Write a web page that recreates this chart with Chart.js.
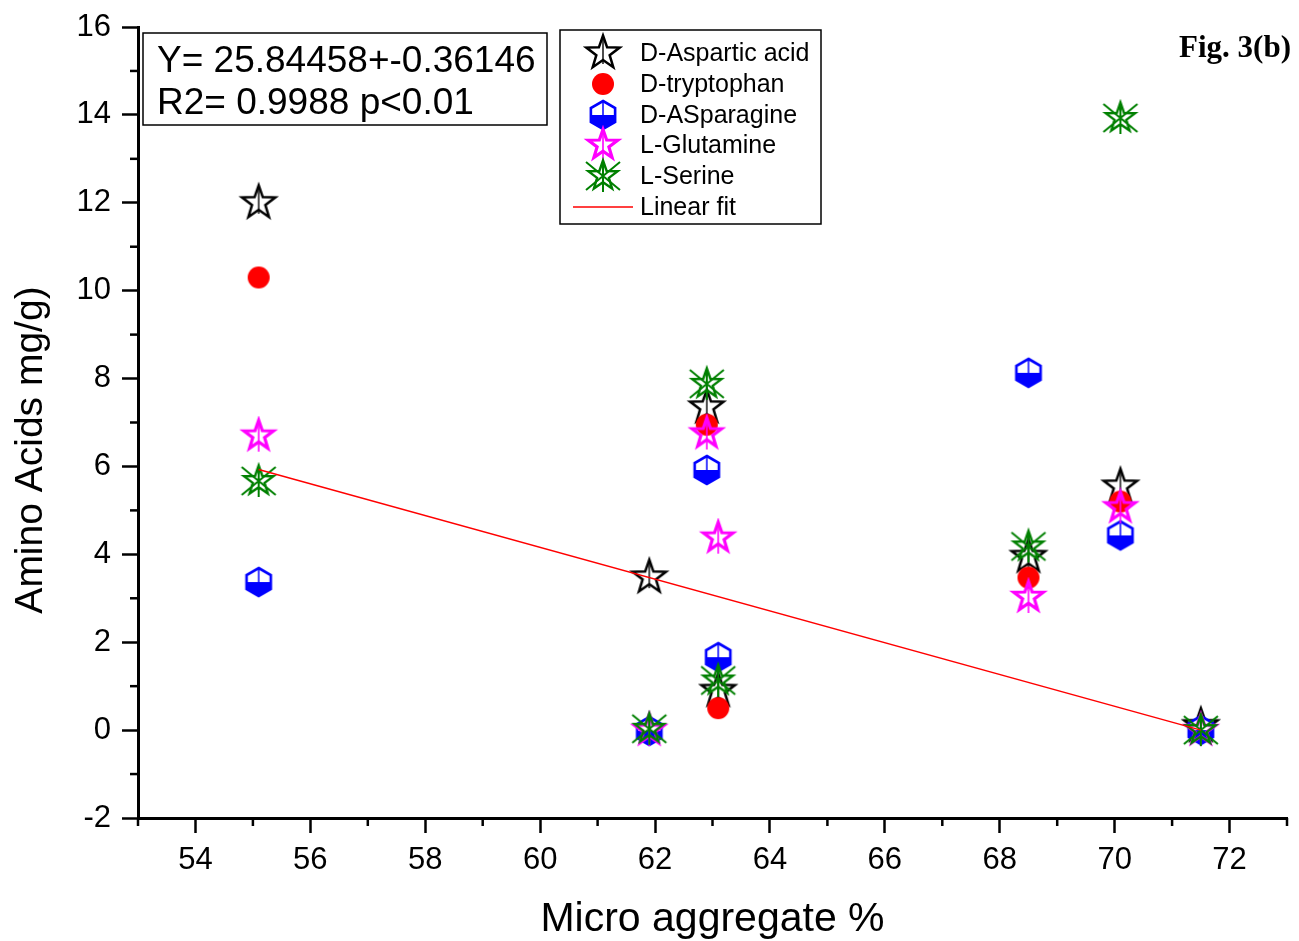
<!DOCTYPE html>
<html><head><meta charset="utf-8">
<script src="https://cdn.jsdelivr.net/npm/chart.js@4.4.1/dist/chart.umd.min.js"></script>
<style>html,body{margin:0;padding:0;background:#fff;overflow:hidden}</style>
</head><body>
<canvas id="c" width="1299" height="941"></canvas>
<script>
// ---- data ----
const xValues = [55.1, 61.9, 62.9, 63.1, 68.5, 70.1, 71.5];
const asparticAcid = [12.0, 3.48, 7.35, 0.9, 3.95, 5.55, 0.1];
const tryptophan = [10.3, 0.0, 6.95, 0.5, 3.47, 5.2, 0.0];
const asparagine = [3.37, -0.02, 5.92, 1.66, 8.13, 4.43, 0.0];
const glutamine = [6.7, 0.0, 6.75, 4.38, 3.03, 5.07, 0.0];
const serine = [5.67, 0.03, 7.88, 1.13, 4.18, 13.93, 0.0];
const fitX = [55.1, 71.5];
const fitY = [5.93, 0.0];
const xMajor = [54, 56, 58, 60, 62, 64, 66, 68, 70, 72];
const xMinor = [53, 55, 57, 59, 61, 63, 65, 67, 69, 71, 73];
const yMajor = [-2, 0, 2, 4, 6, 8, 10, 12, 14, 16];
const yMinor = [-1, 1, 3, 5, 7, 9, 11, 13, 15];
const seriesNames = ['D-Aspartic acid', 'D-tryptophan', 'D-ASparagine', 'L-Glutamine', 'L-Serine', 'Linear fit'];
const equationLines = ['Y= 25.84458+-0.36146', 'R2= 0.9988 p<0.01'];
const figLabel = 'Fig. 3(b)';
const xTitle = 'Micro aggregate %';
const yTitle = 'Amino Acids mg/g)';

// ---- marker images ----
function makeMarker(size, draw) {
  const c = document.createElement('canvas');
  c.width = size; c.height = size;
  const g = c.getContext('2d');
  g.translate(size / 2, size / 2);
  draw(g);
  return c;
}
function starPath(g, R, r) {
  g.beginPath();
  for (let i = 0; i < 10; i++) {
    const a = -Math.PI / 2 + i * Math.PI / 5;
    const rad = i % 2 ? r : R;
    const px = Math.cos(a) * rad, py = Math.sin(a) * rad;
    if (i === 0) g.moveTo(px, py); else g.lineTo(px, py);
  }
  g.closePath();
}
const mkStarBlack = makeMarker(44, g => {
  starPath(g, 17.5, 7);
  g.lineJoin = 'miter'; g.strokeStyle = '#000'; g.lineWidth = 2.5; g.stroke();
  g.beginPath(); g.moveTo(0, -16); g.lineTo(0, 11); g.lineWidth = 1.4; g.stroke();
});
const mkCircle = makeMarker(30, g => {
  g.beginPath(); g.arc(0, 0, 11, 0, Math.PI * 2); g.fillStyle = '#ff0000'; g.fill();
});
const mkHex = makeMarker(36, g => {
  const R = 14;
  const pts = [];
  for (let i = 0; i < 6; i++) {
    const a = -Math.PI / 2 + i * Math.PI / 3;
    pts.push([Math.cos(a) * R, Math.sin(a) * R]);
  }
  g.beginPath(); pts.forEach((p, i) => i ? g.lineTo(p[0], p[1]) : g.moveTo(p[0], p[1])); g.closePath();
  g.fillStyle = '#fff'; g.fill();
  g.beginPath();
  g.moveTo(pts[1][0], 0); g.lineTo(pts[2][0], pts[2][1]); g.lineTo(pts[3][0], pts[3][1]);
  g.lineTo(pts[4][0], pts[4][1]); g.lineTo(pts[5][0], 0); g.closePath();
  g.fillStyle = '#0000ff'; g.fill();
  g.beginPath(); pts.forEach((p, i) => i ? g.lineTo(p[0], p[1]) : g.moveTo(p[0], p[1])); g.closePath();
  g.strokeStyle = '#0000ff'; g.lineWidth = 2.6; g.stroke();
  g.beginPath(); g.moveTo(0, -R); g.lineTo(0, 0); g.lineWidth = 1.5; g.stroke();
});
const mkStarMagenta = makeMarker(40, g => {
  starPath(g, 15.5, 6.2);
  g.lineJoin = 'miter'; g.strokeStyle = '#ff00ff'; g.lineWidth = 3.2; g.stroke();
  g.beginPath(); g.moveTo(0, -14); g.lineTo(0, 16); g.lineWidth = 1.6; g.stroke();
});
const mkStarGreen = makeMarker(44, g => {
  starPath(g, 15.5, 6.2);
  g.lineJoin = 'miter'; g.strokeStyle = '#008000'; g.lineWidth = 2.4; g.stroke();
  g.beginPath();
  g.moveTo(-17, -14); g.lineTo(17, 14);
  g.moveTo(17, -14); g.lineTo(-17, 14);
  g.moveTo(0, -15); g.lineTo(0, 16);
  g.lineWidth = 2; g.stroke();
});
const markers = [mkStarBlack, mkCircle, mkHex, mkStarMagenta, mkStarGreen];

function pts(ys) { return xValues.map((x, i) => ({ x: x, y: ys[i] })); }

const FONT = "'Liberation Sans', Arial, sans-serif";

const decorPlugin = {
  id: 'decor',
  afterDraw(chart) {
    const { ctx, scales: { x, y } } = chart;
    ctx.save();
    // minor ticks
    ctx.strokeStyle = '#000'; ctx.lineWidth = 2.5;
    xMinor.forEach(v => {
      const px = x.getPixelForValue(v);
      ctx.beginPath(); ctx.moveTo(px, x.top); ctx.lineTo(px, x.top + 8); ctx.stroke();
    });
    yMinor.forEach(v => {
      const py = y.getPixelForValue(v);
      ctx.beginPath(); ctx.moveTo(y.right, py); ctx.lineTo(y.right - 8, py); ctx.stroke();
    });
    // y axis title
    ctx.save();
    ctx.translate(31, 450); ctx.rotate(-Math.PI / 2);
    ctx.font = '39px ' + FONT; ctx.fillStyle = '#000'; ctx.textAlign = 'center'; ctx.textBaseline = 'middle';
    ctx.fillText(yTitle, 0, 0);
    ctx.restore();
    // equation box
    ctx.fillStyle = '#fff'; ctx.fillRect(143, 33, 404, 92);
    ctx.strokeStyle = '#000'; ctx.lineWidth = 1.5; ctx.strokeRect(143, 33, 404, 92);
    ctx.fillStyle = '#000'; ctx.font = '37px ' + FONT; ctx.textBaseline = 'middle'; ctx.textAlign = 'left';
    ctx.fillText(equationLines[0], 157, 62);
    ctx.fillText(equationLines[1], 157, 104);
    // legend box
    ctx.fillStyle = '#fff'; ctx.fillRect(560, 30, 261, 194);
    ctx.strokeRect(560, 30, 261, 194);
    ctx.font = '25px ' + FONT; ctx.fillStyle = '#000';
    const rowY = [53, 84, 115, 145, 176, 207];
    seriesNames.forEach((name, i) => {
      if (i < markers.length) {
        const m = markers[i];
        ctx.drawImage(m, 603 - m.width / 2, rowY[i] - m.height / 2);
      } else {
        ctx.strokeStyle = '#ff0000'; ctx.lineWidth = 1.5;
        ctx.beginPath(); ctx.moveTo(573, rowY[i]); ctx.lineTo(633, rowY[i]); ctx.stroke();
      }
      ctx.fillStyle = '#000';
      ctx.fillText(name, 640, rowY[i] + 1);
    });
    // figure label
    ctx.font = "bold 31px 'Liberation Serif', 'Times New Roman', serif";
    ctx.textAlign = 'right'; ctx.textBaseline = 'alphabetic';
    ctx.fillText(figLabel, 1291, 57);
    ctx.restore();
  }
};

new Chart(document.getElementById('c'), {
  type: 'scatter',
  data: {
    datasets: [
      { label: seriesNames[0], data: pts(asparticAcid), pointStyle: mkStarBlack, order: 5 },
      { label: seriesNames[1], data: pts(tryptophan), pointStyle: mkCircle, order: 4 },
      { label: seriesNames[2], data: pts(asparagine), pointStyle: mkHex, order: 3 },
      { label: seriesNames[3], data: pts(glutamine), pointStyle: mkStarMagenta, order: 2 },
      { label: seriesNames[4], data: pts(serine), pointStyle: mkStarGreen, order: 1 },
      { label: seriesNames[5], data: fitX.map((x, i) => ({ x: x, y: fitY[i] })), type: 'line', showLine: true,
        borderColor: '#ff0000', borderWidth: 1.5, pointRadius: 0, fill: false, order: 0 }
    ]
  },
  options: {
    responsive: false,
    animation: false,
    devicePixelRatio: 1,
    layout: { padding: { left: 0, top: 27, right: 12, bottom: 0 } },
    plugins: { legend: { display: false }, tooltip: { enabled: false } },
    scales: {
      x: {
        type: 'linear', min: 53, max: 73,
        afterBuildTicks: s => { s.ticks = xMajor.map(v => ({ value: v })); },
        afterFit: s => { s.height = 123; },
        grid: { drawOnChartArea: false, drawTicks: true, tickLength: 15, tickWidth: 2.5, tickColor: '#000' },
        border: { display: true, color: '#000', width: 3 },
        ticks: { color: '#000', font: { family: FONT, size: 31, lineHeight: 1.2 }, padding: 9, maxRotation: 0, autoSkip: false },
        title: { display: true, text: xTitle, color: '#000', font: { family: FONT, size: 41, lineHeight: 1 }, padding: { top: 0, bottom: 1 } }
      },
      y: {
        type: 'linear', min: -2, max: 16,
        afterBuildTicks: s => { s.ticks = yMajor.map(v => ({ value: v })); },
        afterFit: s => { s.width = 138; s.paddingTop = 0; s.paddingBottom = 0; },
        grid: { drawOnChartArea: false, drawTicks: true, tickLength: 16, tickWidth: 2.5, tickColor: '#000' },
        border: { display: true, color: '#000', width: 3 },
        ticks: { color: '#000', font: { family: FONT, size: 31, lineHeight: 1 }, padding: 11, autoSkip: false },
        title: { display: false }
      }
    }
  },
  plugins: [decorPlugin]
});
</script>
</body></html>
